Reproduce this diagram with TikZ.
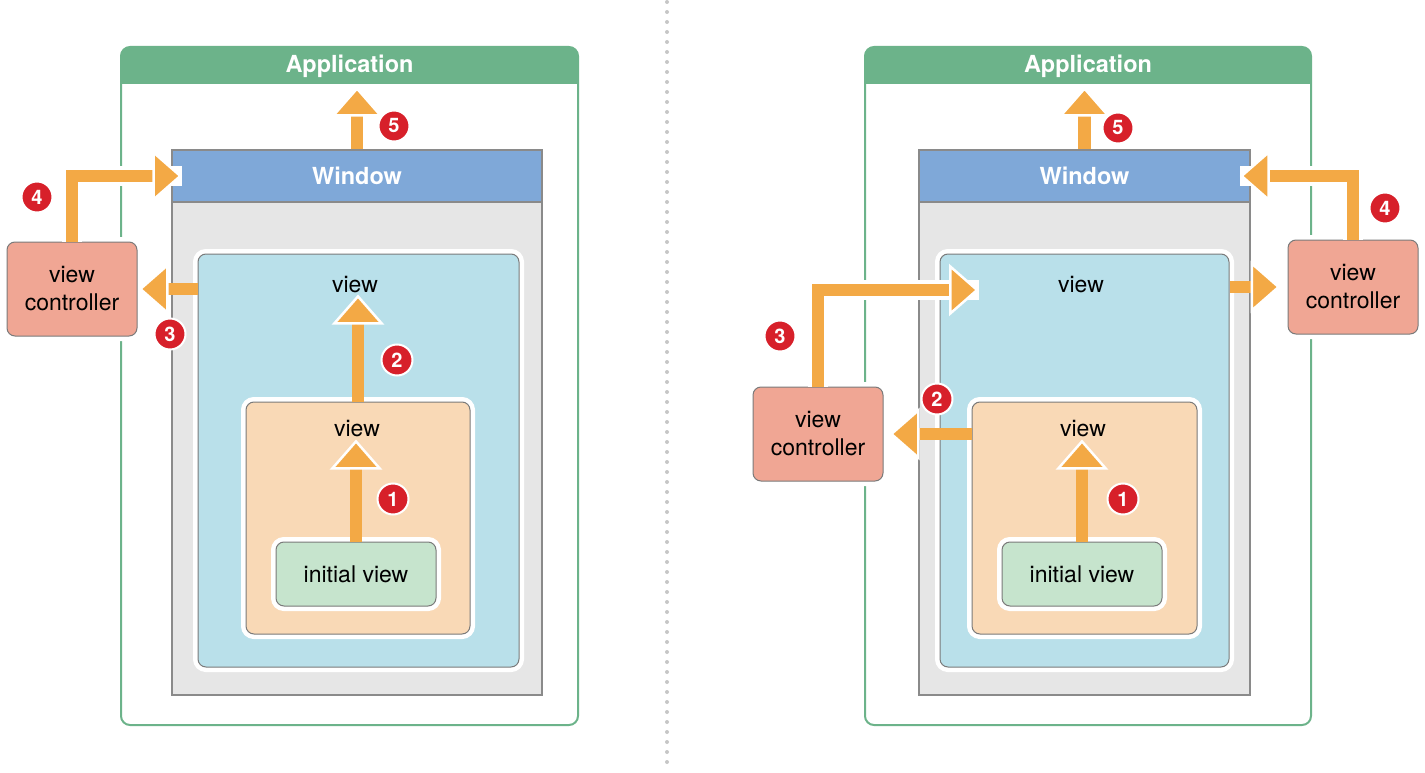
\documentclass[tikz,border=0pt]{standalone}
\usepackage{fontspec}
\setmainfont{TeX Gyre Heros}
\usetikzlibrary{arrows.meta}
\definecolor{appgreen}{HTML}{6CB38A}
\definecolor{winblue}{HTML}{7FA8D8}
\definecolor{wingray}{HTML}{E6E6E6}
\definecolor{winline}{HTML}{8A8A8A}
\definecolor{viewblue}{HTML}{B9E0EA}
\definecolor{subbeige}{HTML}{F9D9B6}
\definecolor{initgreen}{HTML}{C6E4CD}
\definecolor{vcsalmon}{HTML}{F0A694}
\definecolor{flowor}{HTML}{F3A945}
\definecolor{badgered}{HTML}{D7202A}
\definecolor{boxline}{HTML}{7A7A7A}

\begin{document}
\begin{tikzpicture}[x=1pt,y=-1pt,
	every node/.style={font=\fontsize{23}{28}\selectfont,inner sep=0pt},
	appframe/.style={draw=appgreen,line width=2pt,rounded corners=9pt},
	headtext/.style={text=white,font=\fontsize{23.5}{28}\selectfont\bfseries},
	winbox/.style={draw=winline,fill=wingray,line width=1.5pt},
	winbar/.style={draw=winline,fill=winblue,line width=1.5pt,text=white,font=\fontsize{23.5}{28}\selectfont\bfseries},
	box/.style={draw=boxline,line width=1pt,rounded corners=8pt,preaction={draw=white,line width=10pt}},
	vc/.style={box,fill=vcsalmon,align=center,minimum width=130pt,minimum height=94pt},
	badge/.style={circle,fill=badgered,draw=white,line width=2pt,minimum size=31pt,text=white,font=\fontsize{20}{20}\selectfont\bfseries},
	flow/.style={draw=flowor,line width=12.5pt,-{Triangle[width=52pt,length=30pt,color=white,fill=flowor,line width=2.5pt]}},
	flowhalo/.style={flow,preaction={draw=white,line width=20pt,-}}]
	\useasboundingbox (0,0) rectangle (1425,773);
	\draw[line width=4pt,gray!45,dash pattern=on 0pt off 10pt,line cap=round] (667,2) -- (667,771);

	% left: view controller on the root view
	\node[appframe,minimum width=457pt,minimum height=678pt] (appL) at (349.5,386) {};
	\fill[appgreen,rounded corners=9pt] (121,47) rectangle (578,84);
	\fill[appgreen] (121,70) rectangle (578,84);
	\node[headtext,minimum width=457pt,minimum height=37pt] (appheadL) at (349.5,66) {Application};
	\node[winbox,minimum width=370pt,minimum height=545pt] (winL) at (357,422.5) {};
	\node[winbar,minimum width=370pt,minimum height=52pt] (winbarL) at (357,176) {Window};
	\node[box,fill=viewblue,minimum width=321pt,minimum height=413pt] (viewL) at (358.5,460.5) {};
	\node[box,fill=subbeige,minimum width=224pt,minimum height=232pt] (subL) at (358,518) {};
	\node[box,fill=initgreen,minimum width=160pt,minimum height=64pt] (initL) at (356,574) {initial view};
	\node (lblviewL) at (355,285) {view};
	\node (lblsubL) at (357,429) {view};
	\node[vc] (vcL) at (72,289) {view\\controller};

	\draw[flow,shorten >=2pt] (initL.north) -- (initL.north |- lblsubL.south);
	\draw[flow,shorten >=1pt] (subL.north) -- (subL.north |- lblviewL.south);
	\draw[flow,shorten >=1pt] (viewL.west |- vcL.east) -- (vcL.east);
	\draw[flowhalo,shorten >=-11pt] (vcL.north) |- (winbarL.west);
	\draw[flow,shorten >=2pt] (winbarL.north) -- (winbarL.north |- appheadL.south);

	\node[badge] at (393,499) {1};
	\node[badge] at (397,360) {2};
	\node[badge] at (170,334) {3};
	\node[badge] at (37,197) {4};
	\node[badge] at (394,126) {5};

	% right: view controller on a subview
	\node[appframe,minimum width=446pt,minimum height=678pt] (appR) at (1088,386) {};
	\fill[appgreen,rounded corners=9pt] (865,47) rectangle (1311,84);
	\fill[appgreen] (865,70) rectangle (1311,84);
	\node[headtext,minimum width=446pt,minimum height=37pt] (appheadR) at (1088,66) {Application};
	\node[winbox,minimum width=331pt,minimum height=545pt] (winR) at (1084.5,422.5) {};
	\node[winbar,minimum width=331pt,minimum height=52pt] (winbarR) at (1084.5,176) {Window};
	\node[box,fill=viewblue,minimum width=289pt,minimum height=413pt] (viewR) at (1084.5,460.5) {};
	\node[box,fill=subbeige,minimum width=225pt,minimum height=232pt] (subR) at (1084.5,518) {};
	\node[box,fill=initgreen,minimum width=160pt,minimum height=64pt] (initR) at (1082,574) {initial view};
	\node (lblviewR) at (1081,285) {view};
	\node (lblsubR) at (1083,429) {view};
	\node[vc] (vcsubR) at (818,434) {view\\controller};
	\node[vc] (vcrootR) at (1353,287) {view\\controller};
	\coordinate (in3R) at (979,290);

	\draw[flow,shorten >=2pt] (initR.north) -- (initR.north |- lblsubR.south);
	\draw[flow,shorten >=6pt] (subR.west |- vcsubR.east) -- (vcsubR.east);
	\draw[flowhalo] (vcsubR.north) |- (in3R);
	\draw[flow,shorten >=7pt] (viewR.east |- vcrootR.west) -- (vcrootR.west);
	\draw[flowhalo,shorten >=-11pt] (vcrootR.north) |- (winbarR.east);
	\draw[flow,shorten >=2pt] (winbarR.north) -- (winbarR.north |- appheadR.south);

	\node[badge] at (1123,499) {1};
	\node[badge] at (937,399) {2};
	\node[badge] at (780,336) {3};
	\node[badge] at (1385,208) {4};
	\node[badge] at (1118,128) {5};
\end{tikzpicture}
\end{document}
